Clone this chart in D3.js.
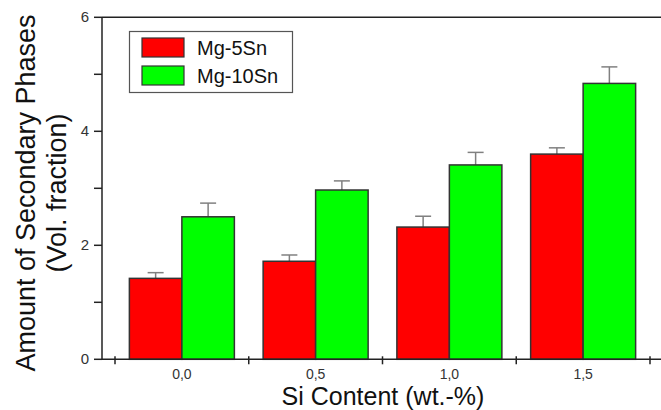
<!DOCTYPE html>
<html>
<head>
<meta charset="utf-8">
<script src="https://cdn.jsdelivr.net/npm/d3@7"></script>
<style>
  body { margin: 0; background: #fff; }
  svg { display: block; font-family: "Liberation Sans", Arial, sans-serif; }
</style>
</head>
<body>
<div id="chart"></div>
<script>
const categories = ["0,0", "0,5", "1,0", "1,5"]
const seriesNames = ["Mg-5Sn", "Mg-10Sn"]
const mg5 = [1.42, 1.72, 2.32, 3.60]
const mg5Err = [0.10, 0.11, 0.19, 0.11]
const mg10 = [2.50, 2.97, 3.41, 4.84]
const mg10Err = [0.24, 0.16, 0.22, 0.29]
const yTicks = [0, 2, 4, 6]
const yMinor = [1, 3, 5]
const colors = ["#ff0000", "#00ff00"]

function drawChart(){
    const width = 661
    const height = 410
    const left = 102, top = 17.3, bottom = 359.3, right = 661

    const svg = d3.select('#chart').append("svg")
    .attr("width", width)
    .attr("height", height)

    var y = d3.scaleLinear()
    .domain([0, 6])
    .range([bottom, top])

    var x = d3.scaleBand()
    .domain(categories)
    .range([115, 650])
    .paddingInner(0.215)
    .paddingOuter(0.1075)

    var x1 = d3.scaleBand()
    .domain(seriesNames)
    .range([0, x.bandwidth()])

    const data = categories.map(function(c, i) {
        return [
            {cat: c, s: 0, v: mg5[i], e: mg5Err[i]},
            {cat: c, s: 1, v: mg10[i], e: mg10Err[i]}
        ]
    }).flat()

    // error bars (upper only)
    const eb = svg.append("g").attr("stroke", "#808080").attr("stroke-width", 1.5)
    data.forEach(function(d) {
        const cx = x(d.cat) + x1(seriesNames[d.s]) + x1.bandwidth() / 2
        eb.append("line").attr("x1", cx).attr("x2", cx)
        .attr("y1", y(d.v)).attr("y2", y(d.v + d.e))
        eb.append("line").attr("x1", cx - 8).attr("x2", cx + 8)
        .attr("y1", y(d.v + d.e)).attr("y2", y(d.v + d.e))
    })

    svg.selectAll("rect.bar")
    .data(data)
    .enter()
    .append("rect")
    .attr("class", "bar")
    .attr("x", function(d) { return x(d.cat) + x1(seriesNames[d.s]) })
    .attr("y", function(d) { return y(d.v) })
    .attr("width", x1.bandwidth())
    .attr("height", function(d) { return bottom - y(d.v) })
    .attr("fill", function(d) { return colors[d.s] })
    .attr("stroke", "#333")
    .attr("stroke-width", 1.5)

    // frame: left, bottom, top
    const ax = svg.append("g").attr("stroke", "#222").attr("stroke-width", 1.5)
    ax.append("line").attr("x1", left).attr("x2", left).attr("y1", top).attr("y2", bottom)
    ax.append("line").attr("x1", left).attr("x2", right).attr("y1", bottom).attr("y2", bottom)
    ax.append("line").attr("x1", left).attr("x2", right).attr("y1", top).attr("y2", top)

    // y ticks
    yTicks.concat(yMinor).forEach(function(t) {
        ax.append("line").attr("x1", left - 8).attr("x2", left)
        .attr("y1", y(t)).attr("y2", y(t))
    })
    svg.append("g").selectAll("text")
    .data(yTicks)
    .enter()
    .append("text")
    .attr("x", left - 13)
    .attr("y", function(d) { return y(d) + 5 })
    .attr("text-anchor", "end")
    .attr("font-size", 15)
    .attr("fill", "#333")
    .text(function(d) { return d })

    // x ticks at group boundaries
    const step = x.step()
    for (let i = 0; i <= categories.length; i++) {
        const tx = 115 + i * step
        ax.append("line").attr("x1", tx).attr("x2", tx)
        .attr("y1", bottom - 3).attr("y2", bottom + 5)
    }
    svg.append("g").selectAll("text")
    .data(categories)
    .enter()
    .append("text")
    .attr("x", function(d) { return x(d) + x.bandwidth() / 2 })
    .attr("y", 379)
    .attr("text-anchor", "middle")
    .attr("font-size", 14)
    .attr("fill", "#333")
    .text(function(d) { return d })

    // axis titles
    svg.append("text")
    .attr("x", 383)
    .attr("y", 405)
    .attr("text-anchor", "middle")
    .attr("font-size", 25)
    .attr("fill", "#111")
    .text("Si Content (wt.-%)")

    const yt = svg.append("text")
    .attr("transform", "translate(0,193) rotate(-90)")
    .attr("text-anchor", "middle")
    .attr("font-size", 27)
    .attr("fill", "#111")
    yt.append("tspan").attr("x", 0).attr("y", 35).text("Amount of Secondary Phases")
    yt.append("tspan").attr("x", 0).attr("y", 66).text("(Vol. fraction)")

    // legend
    const lg = svg.append("g")
    lg.append("rect").attr("x", 129.5).attr("y", 31.5).attr("width", 163).attr("height", 61)
    .attr("fill", "#fff").attr("stroke", "#555").attr("stroke-width", 1.2)
    seriesNames.forEach(function(n, i) {
        lg.append("rect").attr("x", 142).attr("y", 38 + i * 28).attr("width", 42).attr("height", 19)
        .attr("fill", colors[i]).attr("stroke", "#333").attr("stroke-width", 1.2)
        lg.append("text").attr("x", 197).attr("y", 55 + i * 28)
        .attr("font-size", 20).attr("fill", "#111").text(n)
    })
}

drawChart()
</script>
</body>
</html>
